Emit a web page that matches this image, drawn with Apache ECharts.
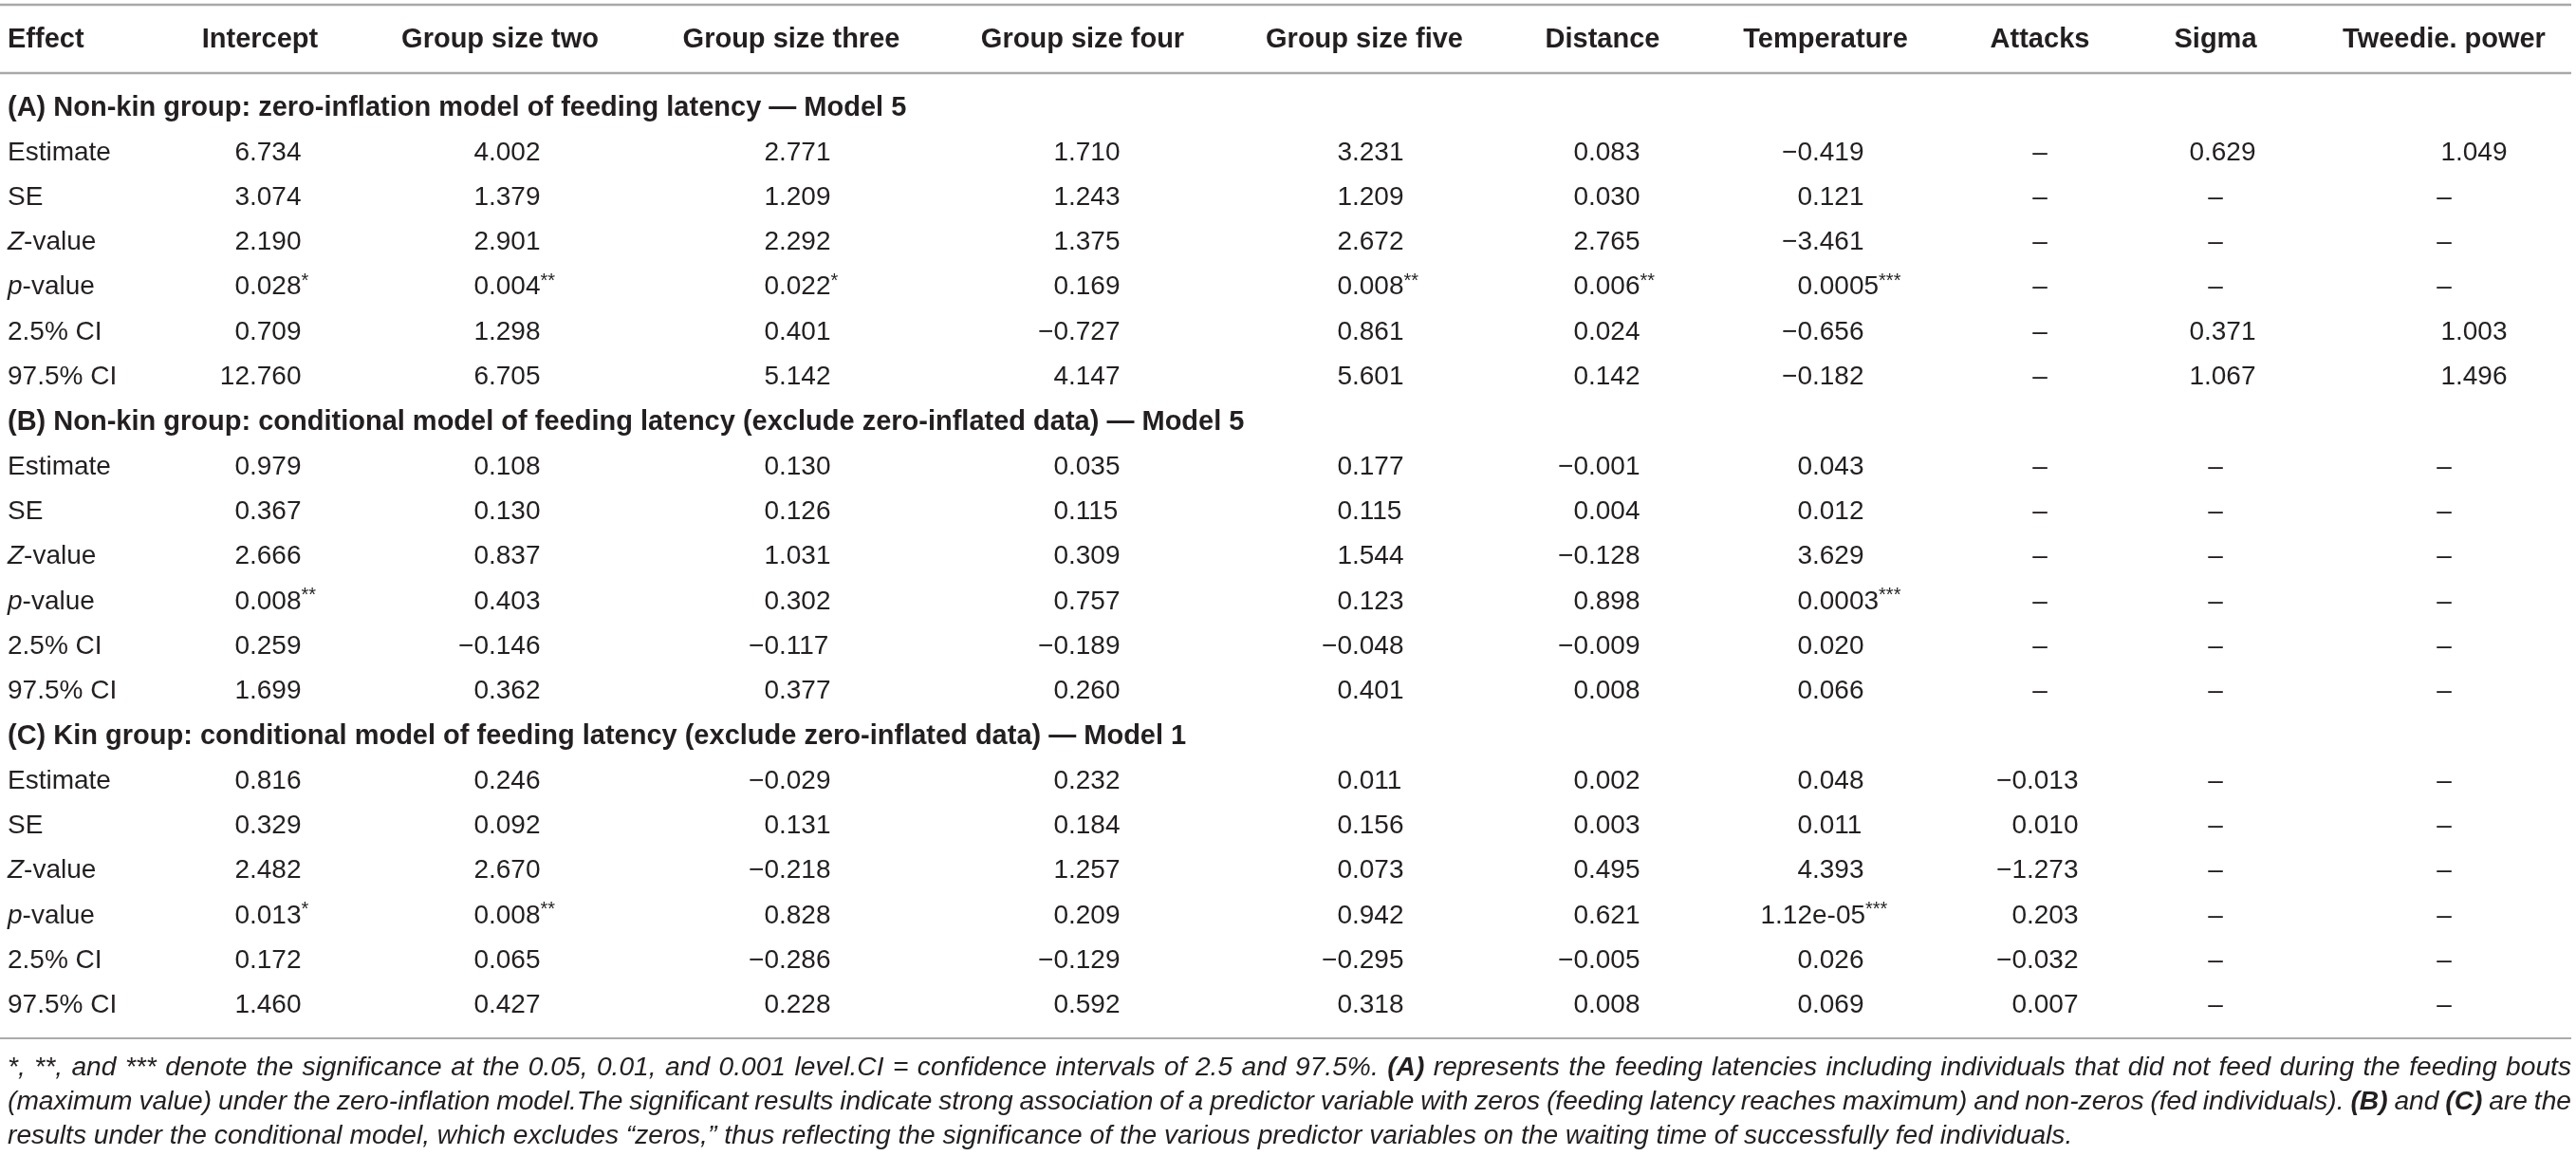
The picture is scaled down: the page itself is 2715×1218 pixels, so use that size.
<!DOCTYPE html>
<html lang="en">
<head>
<meta charset="utf-8">
<title>Feeding latency model table</title>
<script src="https://cdn.jsdelivr.net/npm/echarts@6/dist/echarts.min.js"></script>
<style>
  html, body { margin: 0; padding: 0; background: #fff; }
  #table { width: 2715px; height: 1218px; }
</style>
</head>
<body>
<div id="table"></div>
<script>
// ---- table content ----
var columns = ['Intercept', 'Group size two', 'Group size three', 'Group size four', 'Group size five',
               'Distance', 'Temperature', 'Attacks', 'Sigma', 'Tweedie. power'];
var statRows = ['Estimate', 'SE', 'Z-value', 'p-value', '2.5% CI', '97.5% CI'];
var sectionTitles = [
    '(A) Non-kin group: zero-inflation model of feeding latency \u2014 Model 5',
    '(B) Non-kin group: conditional model of feeding latency (exclude zero-inflated data) \u2014 Model 5',
    '(C) Kin group: conditional model of feeding latency (exclude zero-inflated data) \u2014 Model 1'
];

// (A) zero-inflation model, non-kin
var aEstimate = ['6.734', '4.002', '2.771', '1.710', '3.231', '0.083', '\u22120.419', '\u2013', '0.629', '1.049'];
var aSE       = ['3.074', '1.379', '1.209', '1.243', '1.209', '0.030', '0.121', '\u2013', '\u2013', '\u2013'];
var aZ        = ['2.190', '2.901', '2.292', '1.375', '2.672', '2.765', '\u22123.461', '\u2013', '\u2013', '\u2013'];
var aP        = ['0.028*', '0.004**', '0.022*', '0.169', '0.008**', '0.006**', '0.0005***', '\u2013', '\u2013', '\u2013'];
var aLow      = ['0.709', '1.298', '0.401', '\u22120.727', '0.861', '0.024', '\u22120.656', '\u2013', '0.371', '1.003'];
var aHigh     = ['12.760', '6.705', '5.142', '4.147', '5.601', '0.142', '\u22120.182', '\u2013', '1.067', '1.496'];

// (B) conditional model, non-kin
var bEstimate = ['0.979', '0.108', '0.130', '0.035', '0.177', '\u22120.001', '0.043', '\u2013', '\u2013', '\u2013'];
var bSE       = ['0.367', '0.130', '0.126', '0.115', '0.115', '0.004', '0.012', '\u2013', '\u2013', '\u2013'];
var bZ        = ['2.666', '0.837', '1.031', '0.309', '1.544', '\u22120.128', '3.629', '\u2013', '\u2013', '\u2013'];
var bP        = ['0.008**', '0.403', '0.302', '0.757', '0.123', '0.898', '0.0003***', '\u2013', '\u2013', '\u2013'];
var bLow      = ['0.259', '\u22120.146', '\u22120.117', '\u22120.189', '\u22120.048', '\u22120.009', '0.020', '\u2013', '\u2013', '\u2013'];
var bHigh     = ['1.699', '0.362', '0.377', '0.260', '0.401', '0.008', '0.066', '\u2013', '\u2013', '\u2013'];

// (C) conditional model, kin
var cEstimate = ['0.816', '0.246', '\u22120.029', '0.232', '0.011', '0.002', '0.048', '\u22120.013', '\u2013', '\u2013'];
var cSE       = ['0.329', '0.092', '0.131', '0.184', '0.156', '0.003', '0.011', '0.010', '\u2013', '\u2013'];
var cZ        = ['2.482', '2.670', '\u22120.218', '1.257', '0.073', '0.495', '4.393', '\u22121.273', '\u2013', '\u2013'];
var cP        = ['0.013*', '0.008**', '0.828', '0.209', '0.942', '0.621', '1.12e-05***', '0.203', '\u2013', '\u2013'];
var cLow      = ['0.172', '0.065', '\u22120.286', '\u22120.129', '\u22120.295', '\u22120.005', '0.026', '\u22120.032', '\u2013', '\u2013'];
var cHigh     = ['1.460', '0.427', '0.228', '0.592', '0.318', '0.008', '0.069', '0.007', '\u2013', '\u2013'];

var noteLines = [
    '*, **, and *** denote the significance at the 0.05, 0.01, and 0.001 level.CI = confidence intervals of 2.5 and 97.5%. (A) represents the feeding latencies including individuals that did not feed during the feeding bouts',
    '(maximum value) under the zero-inflation model.The significant results indicate strong association of a predictor variable with zeros (feeding latency reaches maximum) and non-zeros (fed individuals). (B) and (C) are the',
    'results under the conditional model, which excludes \u201czeros,\u201d thus reflecting the significance of the various predictor variables on the waiting time of successfully fed individuals.'
];

// ---- layout ----
var W = 2715, H = 1218;
var FONT = '"Liberation Sans", Arial, Helvetica, sans-serif';
var INK = '#231f20';
var bodySize = 28, headSize = 29;
var leftPad = 8, rightEdge = 2710;
var lastNoteEnd = 2185;                          // where the unjustified last caption line stops
var rowTop = 113.5, rowStep = 47.3;              // pixel position of row 0 and row pitch
var colCenter = [274, 527, 834, 1141, 1438, 1689, 1924, 2150, 2335, 2576];
var colPoint  = [263, 515, 821, 1126, 1425, 1674, 1910, 2136, 2323, 2588];   // decimal point
var headerRow = -1.512;
var ruleRows = [-2.294, -0.772, 20.73];
var ruleWidth = [2.5, 2.5, 1.6];
var ruleColor = ['#a9a9a9', '#a9a9a9', '#8f8f8f'];
var noteRows = [21.385, 22.146, 22.907];

var sections = [
    [aEstimate, aSE, aZ, aP, aLow, aHigh],
    [bEstimate, bSE, bZ, bP, bLow, bHigh],
    [cEstimate, cSE, cZ, cP, cLow, cHigh]
];

// ---- cells ----
var cells = [];
cells.push({ x: leftPad, row: headerRow, kind: 'head', text: 'Effect', align: 'left' });
columns.forEach(function (name, i) {
    cells.push({ x: colCenter[i], row: headerRow, kind: 'head', text: name, align: 'center' });
});
var r = 0;
sections.forEach(function (rows, s) {
    cells.push({ x: leftPad, row: r, kind: 'section', text: sectionTitles[s] });
    r++;
    rows.forEach(function (vals, k) {
        cells.push({ x: leftPad, row: r, kind: 'label', text: statRows[k] });
        vals.forEach(function (v, i) {
            if (v === '\u2013') cells.push({ x: colCenter[i], row: r, kind: 'dash', text: v });
            else cells.push({ x: colPoint[i], row: r, kind: 'num', text: v });
        });
        r++;
    });
});

// footnote words, justified like the printed caption
var ctx = document.createElement('canvas').getContext('2d');
function isBoldWord(w) { return /^\([ABC]\)$/.test(w); }
function measure(w, size) {
    ctx.font = 'italic ' + (isBoldWord(w) ? 'bold ' : '') + size + 'px ' + FONT;
    return ctx.measureText(w).width;
}
// pick the caption size so the last (ragged) line ends where the printed one does
var noteSize = 26 * (lastNoteEnd - leftPad) / measure(noteLines[2], 26);

noteLines.forEach(function (line, li) {
    var words = line.split(' ');
    var widths = words.map(function (w) { return measure(w, noteSize); });
    var space = measure(' ', noteSize);
    var total = widths.reduce(function (a, b) { return a + b; }, 0);
    var gap = li < noteLines.length - 1 ? (rightEdge - leftPad - total) / (words.length - 1) : space;
    var x = leftPad;
    words.forEach(function (w, j) {
        cells.push({ x: x, row: noteRows[li], kind: 'note', text: w, bold: isBoldWord(w) });
        x += widths[j] + gap;
    });
});

function txt(extra) {
    var s = { fontFamily: FONT, fill: INK, verticalAlign: 'middle', fontSize: bodySize };
    for (var k in extra) s[k] = extra[k];
    return s;
}

function renderCell(params, api) {
    var c = cells[params.dataIndex];
    var p = api.coord([api.value(0), api.value(1)]);
    if (c.kind === 'num') {
        var m = c.text.match(/^(.*?)(\**)$/);
        var body = m[1], stars = m[2];
        var cut = body.indexOf('e') >= 0 ? body.indexOf('e') : body.indexOf('.');
        var right = '{n|' + body.slice(cut) + '}' + (stars ? '{s|' + stars + '}' : '');
        return {
            type: 'group', x: p[0], y: p[1],
            children: [
                { type: 'text', style: txt({ text: body.slice(0, cut), align: 'right' }) },
                { type: 'text', style: txt({
                    text: right, align: 'left',
                    rich: {
                        n: { fontSize: bodySize, lineHeight: 32, fontFamily: FONT, fill: INK },
                        s: { fontSize: 20, lineHeight: 26, verticalAlign: 'top', fontFamily: FONT, fill: INK }
                    }
                }) }
            ]
        };
    }
    if (c.kind === 'dash') {
        return { type: 'text', x: p[0], y: p[1], style: txt({ text: c.text, align: 'center' }) };
    }
    if (c.kind === 'head') {
        return { type: 'text', x: p[0], y: p[1],
                 style: txt({ text: c.text, align: c.align, fontSize: headSize, fontWeight: 'bold' }) };
    }
    if (c.kind === 'section') {
        return { type: 'text', x: p[0], y: p[1],
                 style: txt({ text: c.text, align: 'left', fontSize: headSize, fontWeight: 'bold' }) };
    }
    if (c.kind === 'label') {
        var t = c.text.replace(/^([Zp])-/, '{i|$1}-');
        return { type: 'text', x: p[0], y: p[1],
                 style: txt({ text: t, align: 'left',
                              rich: { i: { fontStyle: 'italic', fontSize: bodySize, fontFamily: FONT, fill: INK } } }) };
    }
    // footnote word
    return { type: 'text', x: p[0], y: p[1],
             style: txt({ text: c.text, align: 'left', fontSize: noteSize, fontStyle: 'italic',
                          fontWeight: c.bold ? 'bold' : 'normal' }) };
}

function renderRule(params, api) {
    var a = api.coord([api.value(0), api.value(1)]);
    var b = api.coord([api.value(2), api.value(1)]);
    var i = params.dataIndex;
    return { type: 'line', shape: { x1: a[0], y1: a[1], x2: b[0], y2: b[1] },
             style: { stroke: ruleColor[i], lineWidth: ruleWidth[i] } };
}

var chart = echarts.init(document.getElementById('table'), null, { renderer: 'canvas' });
chart.setOption({
    backgroundColor: '#ffffff',
    animation: false,
    grid: { left: 0, right: 0, top: 0, bottom: 0 },
    xAxis: { type: 'value', min: 0, max: W, show: false },
    yAxis: { type: 'value', min: -rowTop / rowStep, max: (H - rowTop) / rowStep, inverse: true, show: false },
    series: [
        {
            name: 'rules', type: 'custom', silent: true, clip: false,
            renderItem: renderRule,
            data: ruleRows.map(function (ry) { return [0, ry, rightEdge]; })
        },
        {
            name: 'cells', type: 'custom', silent: true, clip: false,
            renderItem: renderCell,
            data: cells.map(function (c) { return [c.x, c.row]; })
        }
    ]
});
</script>
</body>
</html>
